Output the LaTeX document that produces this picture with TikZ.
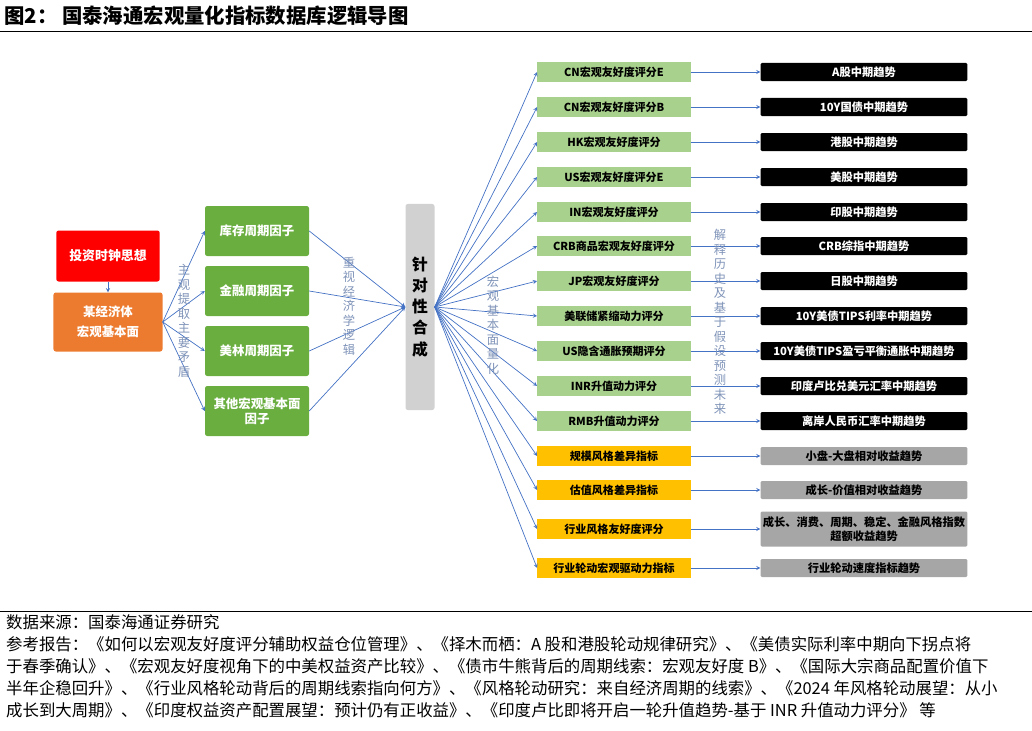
\documentclass[tikz,border=0pt]{standalone}
\usepackage{fontspec}
\setmainfont{Noto Sans CJK SC}
\usetikzlibrary{arrows}
\definecolor{clockred}{HTML}{FF0000}
\definecolor{econorange}{HTML}{EC7B30}
\definecolor{factorgreen}{HTML}{6AAE3F}
\definecolor{scoregreen}{HTML}{A9D18E}
\definecolor{stylegold}{HTML}{FFC000}
\definecolor{trendgray}{HTML}{A6A6A6}
\definecolor{linkblue}{HTML}{4472C4}
\definecolor{notegray}{HTML}{7F93B8}
\tikzset{
    % node styles
    box/.style = {rounded corners=2pt, inner sep=1pt, align=center, font=\fontsize{9.4}{11}\selectfont\bfseries},
    clock/.style = {box, fill=clockred, text=white, minimum width=3.1cm, minimum height=1.53cm, font=\fontsize{11}{13}\selectfont\bfseries},
    econ/.style = {box, fill=econorange, text=white, minimum width=3.27cm, minimum height=1.77cm, font=\fontsize{10.6}{17}\selectfont\bfseries},
    factor/.style = {box, fill=factorgreen, text=white, minimum width=3.12cm, minimum height=1.5cm, font=\fontsize{10.6}{13}\selectfont\bfseries},
    synth/.style = {box, fill=black!18, minimum width=0.87cm, minimum height=6.18cm, font=\fontsize{13.5}{18}\selectfont\bfseries},
    score/.style = {box, rounded corners=0pt, fill=scoregreen, minimum width=4.6cm, minimum height=0.6cm},
    style score/.style = {score, fill=stylegold},
    trend/.style = {box, rounded corners=1pt, fill=black, text=white, minimum width=6.2cm, minimum height=0.54cm, font=\fontsize{9.6}{12}\selectfont\bfseries},
    gray trend/.style = {trend, fill=trendgray, text=black},
    note/.style = {align=center, text=notegray, font=\fontsize{10.5}{12.4}\selectfont},
    foot/.style = {anchor=west, inner sep=0pt, font=\fontsize{14}{16}\selectfont},
    % arrow style
    pre/.style={<-, linkblue, >=stealth, semithick},
    post/.style={->, linkblue, >=stealth, semithick}
}
\begin{document}
\begin{tikzpicture}[x=0.03cm, y=-0.03cm]
        \useasboundingbox (0,0) rectangle (1032,731);
        % title
        \node[anchor=west, inner sep=0pt, font=\fontsize{17.4}{19}\selectfont\bfseries] (title) at (4,16) {图2：\ 国泰海通宏观量化指标数据库逻辑导图};
        \draw[semithick] (0,31) -- (1032,31);
        
        % left part
        \node[clock] (clock) at (108,256) {投资时钟思想};
        \node[econ] (econ) at (108,322) {某经济体\\宏观基本面};
        \draw[post] (clock) -- (econ);
        \node[synth] (syn) at (420,307) {针\\对\\性\\合\\成};
        
        \node[factor] (f1) at (257,231) {库存周期因子};
        \node[factor] (f2) at (257,291) {金融周期因子};
        \node[factor] (f3) at (257,351) {美林周期因子};
        \node[factor] (f4) at (257,411) {其他宏观基本面\\因子};
        \foreach \f in {f1, f2, f3, f4} {
            \draw[post] (econ.east) -- (\f.west);
            \draw[post] (\f.east) -- (syn.west);
        }
        
        % scores
        \node[score] (s1) at (614,72) {CN宏观友好度评分E};
        \node[score] (s2) at (614,107) {CN宏观友好度评分B};
        \node[score] (s3) at (614,142) {HK宏观友好度评分};
        \node[score] (s4) at (614,177) {US宏观友好度评分E};
        \node[score] (s5) at (614,212) {IN宏观友好度评分};
        \node[score] (s6) at (614,246) {CRB商品宏观友好度评分};
        \node[score] (s7) at (614,281) {JP宏观友好度评分};
        \node[score] (s8) at (614,316) {美联储紧缩动力评分};
        \node[score] (s9) at (614,351) {US隐含通胀预期评分};
        \node[score] (s10) at (614,386) {INR升值动力评分};
        \node[score] (s11) at (614,421) {RMB升值动力评分};
        \node[style score] (s12) at (614,456) {规模风格差异指标};
        \node[style score] (s13) at (614,490) {估值风格差异指标};
        \node[style score] (s14) at (614,529) {行业风格友好度评分};
        \node[style score] (s15) at (614,568) {行业轮动宏观驱动力指标};
        
        % trends
        \node[trend] (t1) at (864,72) {A股中期趋势};
        \node[trend] (t2) at (864,107) {10Y国债中期趋势};
        \node[trend] (t3) at (864,142) {港股中期趋势};
        \node[trend] (t4) at (864,177) {美股中期趋势};
        \node[trend] (t5) at (864,212) {印股中期趋势};
        \node[trend] (t6) at (864,246) {CRB综指中期趋势};
        \node[trend] (t7) at (864,281) {日股中期趋势};
        \node[trend] (t8) at (864,316) {10Y美债TIPS利率中期趋势};
        \node[trend] (t9) at (864,351) {10Y美债TIPS盈亏平衡通胀中期趋势};
        \node[trend] (t10) at (864,386) {印度卢比兑美元汇率中期趋势};
        \node[trend] (t11) at (864,421) {离岸人民币汇率中期趋势};
        \node[gray trend] (t12) at (864,456) {小盘-大盘相对收益趋势};
        \node[gray trend] (t13) at (864,490) {成长-价值相对收益趋势};
        \node[gray trend, minimum height=1.05cm] (t14) at (864,529) {成长、消费、周期、稳定、金融风格指数\\超额收益趋势};
        \node[gray trend] (t15) at (864,568) {行业轮动速度指标趋势};
        
        \foreach \i in {1,...,15} {
            \draw[post] (syn.east) -- (s\i.west);
            \draw[post] (s\i.east) -- (t\i.west);
        }
        
        % vertical notes
        \node[note] (n1) at (184,321) {主\\观\\提\\取\\主\\要\\矛\\盾};
        \node[note] (n2) at (349,306) {重\\视\\经\\济\\学\\逻\\辑};
        \node[note] (n3) at (493,325) {宏\\观\\基\\本\\面\\量\\化};
        \node[note] (n4) at (720,322) {解\\释\\历\\史\\及\\基\\于\\假\\设\\预\\测\\未\\来};
        
        % footer
        \draw[semithick] (0,611) -- (1032,611);
        \node[foot] (src) at (6,622) {数据来源：国泰海通证券研究};
        \node[foot] (r1) at (6,644) {参考报告：《如何以宏观友好度评分辅助权益仓位管理》、《择木而栖：A 股和港股轮动规律研究》、《美债实际利率中期向下拐点将};
        \node[foot] (r2) at (6,666) {于春季确认》、《宏观友好度视角下的中美权益资产比较》、《债市牛熊背后的周期线索：宏观友好度 B》、《国际大宗商品配置价值下};
        \node[foot] (r3) at (6,688) {半年企稳回升》、《行业风格轮动背后的周期线索指向何方》、《风格轮动研究：来自经济周期的线索》、《2024 年风格轮动展望：从小};
        \node[foot] (r4) at (6,710) {成长到大周期》、《印度权益资产配置展望：预计仍有正收益》、《印度卢比即将开启一轮升值趋势-基于 INR 升值动力评分》 等};
\end{tikzpicture}
\end{document}
